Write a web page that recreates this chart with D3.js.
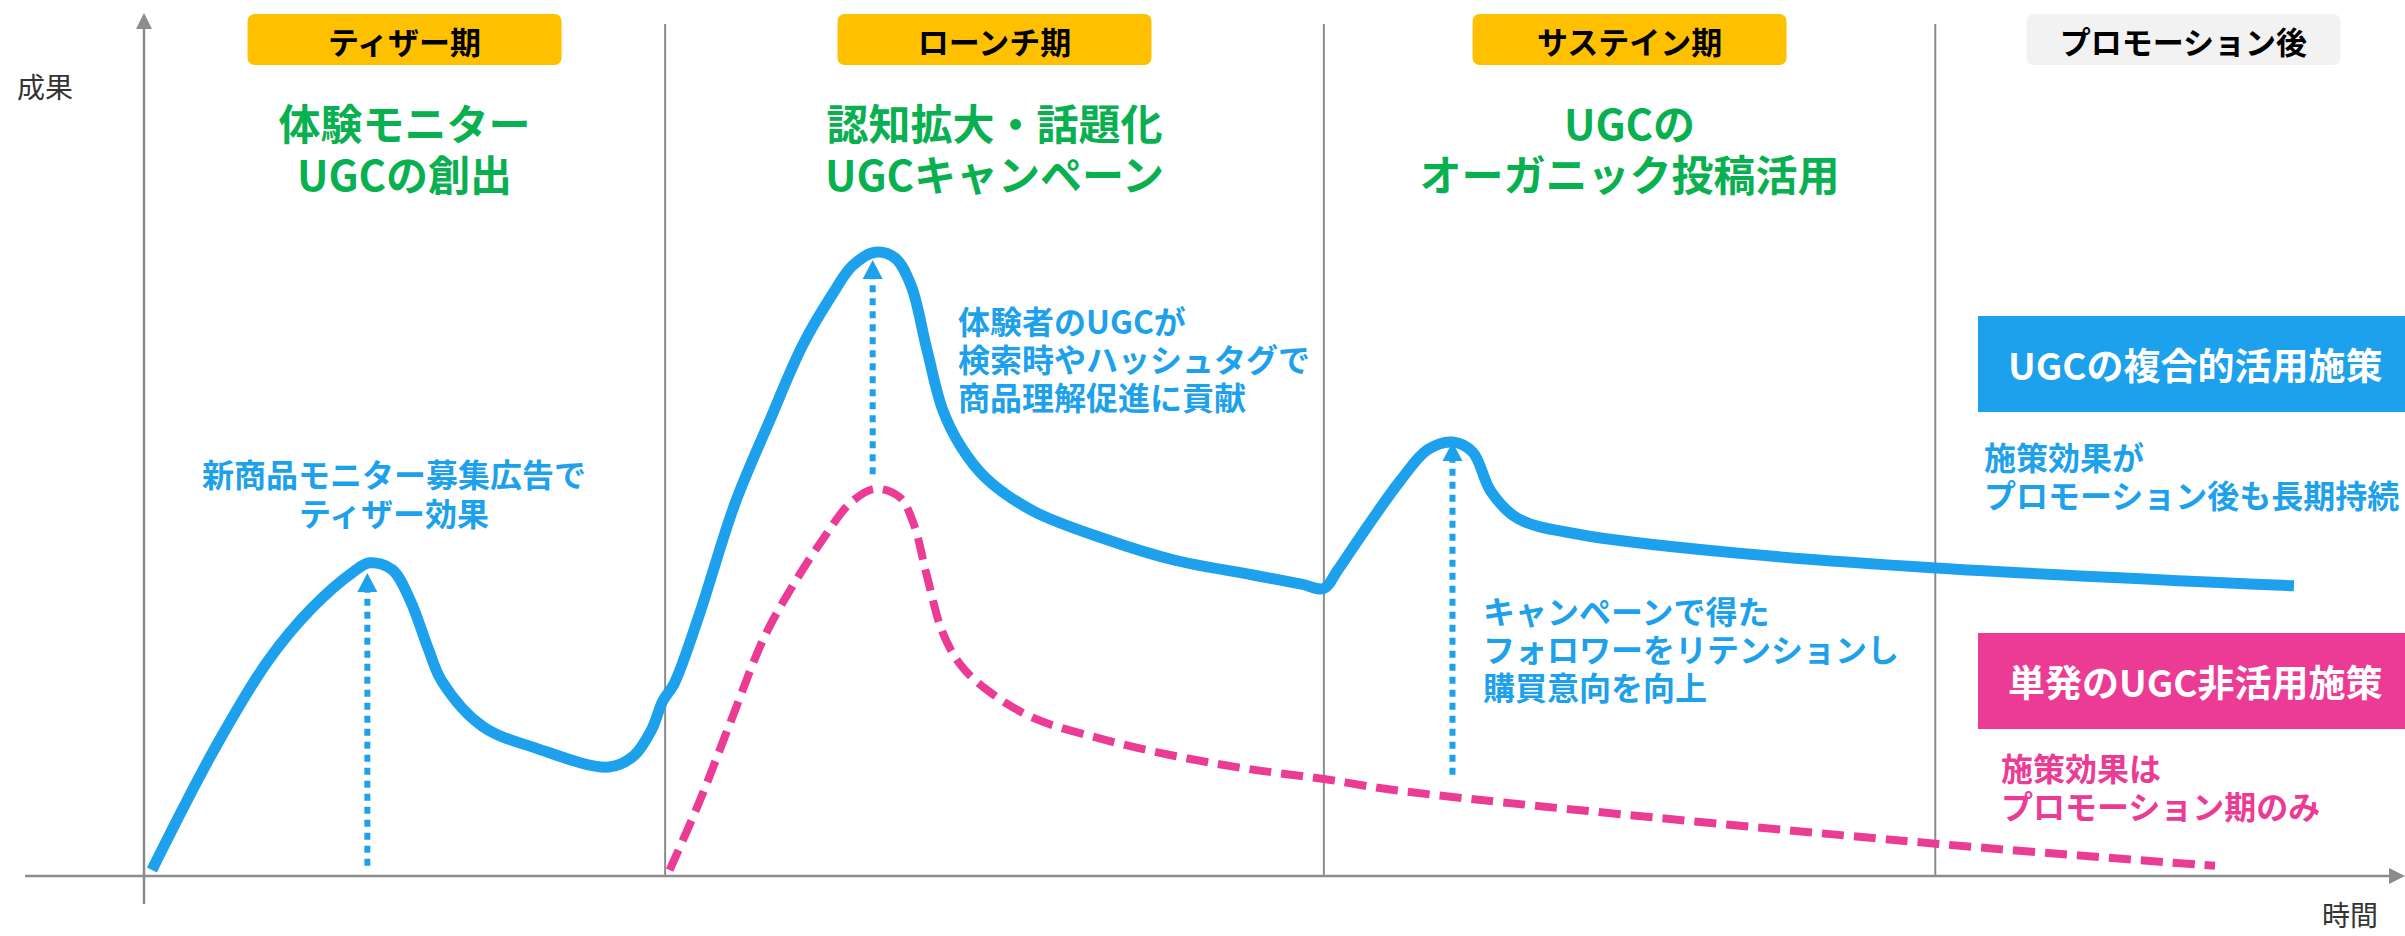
<!DOCTYPE html>
<html>
<head>
<meta charset="utf-8">
<script src="https://cdn.jsdelivr.net/npm/d3@7"></script>
<style>
  body { margin: 0; background: #fff; }
  text { font-family: "Noto Sans CJK JP", "Noto Sans", sans-serif; }
</style>
</head>
<body>
<script>
// phases along the time axis
var phaseNames = ["ティザー期", "ローンチ期", "サステイン期", "プロモーション後"];
var phaseBounds = [0, 23.1, 52.3, 79.4, 101.4];
var phaseTitles = [["体験モニター", "UGCの創出"], ["認知拡大・話題化", "UGCキャンペーン"], ["UGCの", "オーガニック投稿活用"]];

// UGC combined usage (solid blue)
var blueTime  = [0.35, 3.1, 5.5, 7.45, 9.26, 10.0, 11.0, 11.8, 12.6, 13.2, 15.0, 17.4, 20.6, 21.7, 22.5, 23.0, 23.5, 24.6, 26.2, 27.7, 29.2, 30.5, 31.4, 32.4, 33.3, 34.0, 34.7, 35.4, 36.2, 37.3, 39.4, 42.6, 45.7, 48.9, 51.3, 52.3, 52.9, 53.9, 55.7, 56.9, 58.0, 58.9, 59.7, 60.9, 63.7, 70.0, 79.4, 95.3];
var blueValue = [0.7, 14.8, 25.3, 31.5, 35.7, 36.8, 36.0, 32.4, 26.7, 22.9, 17.6, 15.0, 12.8, 14.1, 17.2, 20.6, 22.6, 30.6, 43.8, 53.3, 62.4, 68.3, 71.7, 73.3, 72.6, 69.4, 61.9, 54.8, 50.5, 46.8, 42.9, 39.6, 37.1, 35.5, 34.3, 33.8, 35.9, 39.8, 46.5, 50.1, 51.0, 49.8, 45.2, 42.0, 40.1, 38.1, 36.2, 34.1];

// single-shot campaign without UGC (dashed pink)
var pinkTime  = [23.3, 24.6, 26.0, 27.5, 28.8, 30.1, 31.3, 32.4, 33.5, 34.1, 34.7, 35.4, 36.2, 37.3, 39.4, 42.6, 45.7, 48.9, 52.3, 55.7, 79.4, 91.8];
var pinkValue = [0.7, 8.6, 18.1, 28.1, 34.3, 39.6, 43.8, 45.5, 44.5, 41.5, 35.3, 28.6, 24.8, 22.0, 18.6, 16.0, 14.1, 12.6, 11.4, 10.0, 3.8, 1.2];

// dotted uplift arrows
var arrowTime = [9.9, 32.3, 58.0];
var arrowFrom = [1.2, 47.2, 11.9];
var arrowTo   = [35.6, 72.4, 51.0];

var note1 = ["新商品モニター募集広告で", "ティザー効果"];
var note2 = ["体験者のUGCが", "検索時やハッシュタグで", "商品理解促進に貢献"];
var note3 = ["キャンペーンで得た", "フォロワーをリテンションし", "購買意向を向上"];
var legendNames = ["UGCの複合的活用施策", "単発のUGC非活用施策"];
var legendNotes = [["施策効果が", "プロモーション後も長期持続"], ["施策効果は", "プロモーション期のみ"]];

var W = 2405, H = 936;
var BLUE = "#1da1ec", PINK = "#ec3b94", GREEN = "#08b04f", YELLOW = "#ffc000", AXIS = "#8c8c8c";

var svg = d3.select("body").append("svg")
    .attr("width", W)
    .attr("height", H);

var x = d3.scaleLinear().domain([0, 100]).range([144, 2400]);
var y = d3.scaleLinear().domain([0, 100]).range([876, 25]);

// phase dividers
svg.selectAll(".divider")
    .data(phaseBounds.slice(1, 4))
    .enter().append("line")
    .attr("x1", function (d) { return x(d); })
    .attr("x2", function (d) { return x(d); })
    .attr("y1", 24)
    .attr("y2", y(0))
    .attr("stroke", AXIS)
    .attr("stroke-width", 2);

// axes
svg.append("line")
    .attr("x1", 25).attr("x2", W - 14)
    .attr("y1", y(0)).attr("y2", y(0))
    .attr("stroke", AXIS).attr("stroke-width", 2.5);
svg.append("path")
    .attr("d", "M" + W + "," + y(0) + "L" + (W - 16) + "," + (y(0) - 8) + "L" + (W - 16) + "," + (y(0) + 8) + "Z")
    .attr("fill", AXIS);
svg.append("line")
    .attr("x1", x(0)).attr("x2", x(0))
    .attr("y1", 904).attr("y2", 26)
    .attr("stroke", AXIS).attr("stroke-width", 2.5);
svg.append("path")
    .attr("d", "M" + x(0) + ",13L" + (x(0) - 8) + ",29L" + (x(0) + 8) + ",29Z")
    .attr("fill", AXIS);

svg.append("text").attr("x", 17).attr("y", 86)
    .attr("dominant-baseline", "central")
    .style("font-size", "28px").style("fill", "#333")
    .text("成果");
svg.append("text").attr("x", 2322).attr("y", 914)
    .attr("dominant-baseline", "central")
    .style("font-size", "28px").style("fill", "#333")
    .text("時間");

// phase label boxes
var phaseCenter = phaseNames.map(function (d, i) {
    return (x(phaseBounds[i]) + x(phaseBounds[i + 1])) / 2;
});
svg.selectAll(".phase")
    .data(phaseNames)
    .enter().append("rect")
    .attr("x", function (d, i) { return phaseCenter[i] - 157; })
    .attr("y", 14)
    .attr("width", 314)
    .attr("height", 51)
    .attr("rx", 7)
    .attr("fill", function (d, i) { return i < 3 ? YELLOW : "#f2f2f2"; });
svg.selectAll(".phaseText")
    .data(phaseNames)
    .enter().append("text")
    .attr("x", function (d, i) { return phaseCenter[i]; })
    .attr("y", 40)
    .attr("text-anchor", "middle")
    .attr("dominant-baseline", "central")
    .style("font-size", "31px").style("font-weight", "bold").style("fill", "#000")
    .text(function (d) { return d; });

// green phase titles
phaseTitles.forEach(function (lines, i) {
    lines.forEach(function (t, j) {
        svg.append("text")
            .attr("x", phaseCenter[i])
            .attr("y", 121 + j * 51)
            .attr("text-anchor", "middle")
            .attr("dominant-baseline", "central")
            .style("font-size", "42px").style("font-weight", "bold").style("fill", GREEN)
            .text(t);
    });
});

// curves
var line = d3.line()
    .x(function (d) { return x(d[0]); })
    .y(function (d) { return y(d[1]); })
    .curve(d3.curveCatmullRom.alpha(0.5));

svg.append("path")
    .attr("d", line(pinkTime.map(function (t, i) { return [t, pinkValue[i]]; })))
    .attr("fill", "none")
    .attr("stroke", PINK)
    .attr("stroke-width", 8)
    .attr("stroke-dasharray", "22 10");

svg.append("path")
    .attr("d", line(blueTime.map(function (t, i) { return [t, blueValue[i]]; })))
    .attr("fill", "none")
    .attr("stroke", BLUE)
    .attr("stroke-width", 11)
    .attr("stroke-linejoin", "round");

// dotted arrows
arrowTime.forEach(function (t, i) {
    var ax = x(t), tip = y(arrowTo[i]);
    svg.append("line")
        .attr("x1", ax).attr("x2", ax)
        .attr("y1", y(arrowFrom[i])).attr("y2", tip + 16)
        .attr("stroke", BLUE)
        .attr("stroke-width", 6)
        .attr("stroke-dasharray", "7 6");
    svg.append("path")
        .attr("d", "M" + ax + "," + tip + "L" + (ax - 10) + "," + (tip + 19) + "L" + (ax + 10) + "," + (tip + 19) + "Z")
        .attr("fill", BLUE);
});

// annotations
function block(lines, px, py, gap, anchor, color, size) {
    lines.forEach(function (t, j) {
        svg.append("text")
            .attr("x", px)
            .attr("y", py + j * gap)
            .attr("text-anchor", anchor)
            .attr("dominant-baseline", "central")
            .style("font-size", size + "px").style("font-weight", "bold").style("fill", color)
            .text(t);
    });
}
block(note1, 394, 473, 39, "middle", BLUE, 32);
block(note2, 958, 320, 38, "start", BLUE, 32);
block(note3, 1483, 610, 38, "start", BLUE, 32);

// legend boxes
var legendTop = [316, 633];
var legendColor = [BLUE, PINK];
legendNames.forEach(function (name, i) {
    svg.append("rect")
        .attr("x", 1978).attr("y", legendTop[i])
        .attr("width", 440).attr("height", 96)
        .attr("fill", legendColor[i]);
    svg.append("text")
        .attr("x", 2008).attr("y", legendTop[i] + 48)
        .attr("dominant-baseline", "central")
        .style("font-size", "37px").style("font-weight", "bold").style("fill", "#fff")
        .text(name);
});
block(legendNotes[0], 1984, 456, 38, "start", BLUE, 32);
block(legendNotes[1], 2001, 767, 38, "start", PINK, 32);
</script>
</body>
</html>
